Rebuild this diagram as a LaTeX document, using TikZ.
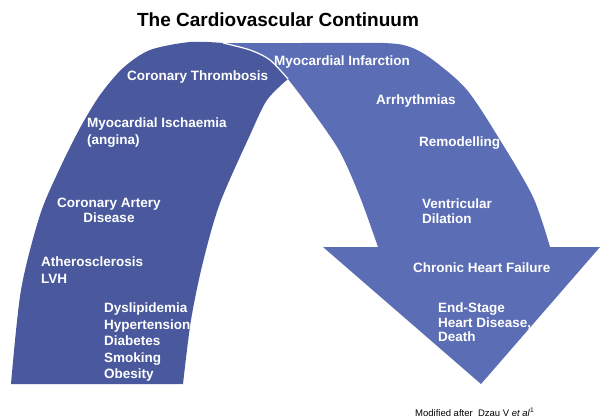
\documentclass[tikz,border=0pt]{standalone}
\usepackage{fontspec}
\setmainfont{Liberation Sans}
\usetikzlibrary{positioning}
\definecolor{archdark}{RGB}{74,89,157}
\definecolor{archlight}{RGB}{91,109,181}
\tikzset{
  lbl/.style={text=white,inner sep=0pt,font=\bfseries\fontsize{13.5}{16.5}\selectfont},
  lbltight/.style={lbl,font=\bfseries\fontsize{13.5}{14.5}\selectfont},
}

\begin{document}
\begin{tikzpicture}[x=1pt,y=-1pt]
\useasboundingbox (0,0) rectangle (601,418);
% right part: bend and arrow head
\fill[archlight] plot[smooth,tension=0.5] coordinates {(223,43) (300,43) (383,43) (410,47) (433,60) (467,90) (500,140) (533,197) (550,247)}
  -- (600,247) -- (481,384) -- (323,247) -- (378,247)
  -- plot[smooth,tension=0.5] coordinates {(378,247) (360,197) (340,152) (313,112) (288,79)}
  -- plot[smooth,tension=0.5] coordinates {(288,79) (270,60) (250,50) (223,43)} -- cycle;
% left part of the arch
\fill[archdark] plot[smooth,tension=0.5] coordinates {(11,384) (21,290) (40,215) (60,168) (80,128) (100,95) (123,68) (150,50) (190,42) (223,43)}
  -- plot[smooth,tension=0.5] coordinates {(223,43) (250,50) (270,60) (288,79)}
  -- plot[smooth,tension=0.5] coordinates {(288,79) (267,100) (250,135) (220,203) (203,262) (191,320) (183,384)} -- cycle;
\draw[white,line width=1.2pt] plot[smooth,tension=0.5] coordinates {(223,43) (250,50) (270,60) (288,79)};

\node (title) at (278,20) {\bfseries\fontsize{19}{22}\selectfont The Cardiovascular Continuum};

\node[lbl,anchor=west] (ct) at (127,77) {Coronary Thrombosis};
\node[lbl,anchor=north west,align=left] (mi) at (87,118) {Myocardial Ischaemia\\(angina)};
\node[lbltight,anchor=north,align=center] (cad) at (109,198) {Coronary Artery\\Disease};
\node[lbl,anchor=north west,align=left] (ath) at (41,257) {Atherosclerosis\\LVH};
\node[lbl,anchor=north west,align=left] (risk) at (104,303) {Dyslipidemia\\Hypertension\\Diabetes\\Smoking\\Obesity};

\node[lbl,anchor=west] (minf) at (274,62) {Myocardial Infarction};
\node[lbl,anchor=west] (arr) at (376,101) {Arrhythmias};
\node[lbl,anchor=west] (rem) at (419,143) {Remodelling};
\node[lbltight,anchor=north west,align=left] (vd) at (422,199) {Ventricular\\Dilation};
\node[lbl,anchor=west] (chf) at (413,268) {Chronic Heart Failure};
\node[lbltight,anchor=north west,align=left] (es) at (438,303) {End-Stage\\Heart Disease,\\Death};

\node[anchor=west,inner sep=0pt,font=\fontsize{9.5}{11}\selectfont] (note) at (415,412) {Modified after\ \ Dzau V \textit{et al}\textsuperscript{1}};
\end{tikzpicture}
\end{document}
